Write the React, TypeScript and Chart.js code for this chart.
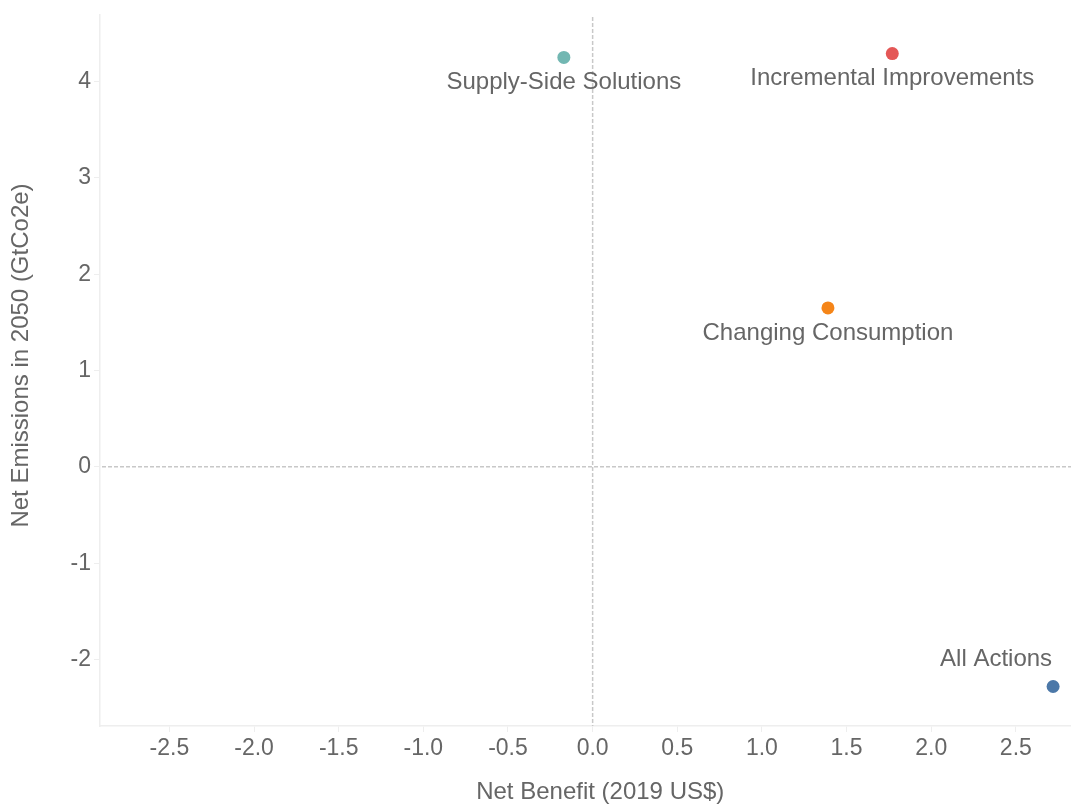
import React, { useEffect, useRef } from 'react';
import { Chart, registerables } from 'chart.js';

Chart.register(...registerables);

const categories = ['Supply-Side Solutions', 'Incremental Improvements', 'Changing Consumption', 'All Actions'];
const netBenefit = [-0.17, 1.77, 1.39, 2.72];
const netEmissions = [4.25, 4.29, 1.65, -2.28];
const pointColors = ['#72b7b2', '#e45756', '#f58518', '#4c78a8'];
const labelPlacement = ['below', 'below', 'below', 'above-left'];
const xTickValues = [-2.5, -2, -1.5, -1, -0.5, 0, 0.5, 1, 1.5, 2, 2.5];
const yTickValues = [-2, -1, 0, 1, 2, 3, 4];
const xRange = [-2.91, 3.0];
const yRange = [-2.69, 4.69];
const xTitle = 'Net Benefit (2019 US$)';
const yTitle = 'Net Emissions in 2050 (GtCo2e)';

const FONT = "'Liberation Sans', Arial, Helvetica, sans-serif";
const TEXT = '#666666';
const AXIS = '#eeeeee';

const refLines = {
  id: 'refLines',
  beforeDatasetsDraw(chart: any) {
    const { ctx, chartArea, scales } = chart;
    const x0 = scales.x.getPixelForValue(0);
    const y0 = scales.y.getPixelForValue(0);
    ctx.save();
    ctx.beginPath();
    ctx.rect(chartArea.left, chartArea.top, chartArea.right - chartArea.left, chartArea.bottom - chartArea.top);
    ctx.clip();
    ctx.strokeStyle = '#c8c8c8';
    ctx.lineWidth = 1.5;
    ctx.setLineDash([4, 2]);
    ctx.beginPath();
    ctx.moveTo(x0, chartArea.top + 2);
    ctx.lineTo(x0, chartArea.bottom);
    ctx.moveTo(chartArea.left + 2, y0);
    ctx.lineTo(chartArea.right, y0);
    ctx.stroke();
    ctx.restore();
  },
};

const pointLabels = {
  id: 'pointLabels',
  afterDatasetsDraw(chart: any) {
    const { ctx } = chart;
    const meta = chart.getDatasetMeta(0);
    ctx.save();
    ctx.font = `24px ${FONT}`;
    ctx.fillStyle = TEXT;
    ctx.textBaseline = 'middle';
    meta.data.forEach((pt: any, i: number) => {
      const place = labelPlacement[i];
      if (place === 'above-left') {
        ctx.textAlign = 'right';
        ctx.fillText(categories[i], pt.x - 1, pt.y - 27);
      } else {
        ctx.textAlign = 'center';
        ctx.fillText(categories[i], pt.x, pt.y + 25);
      }
    });
    ctx.restore();
  },
};

const yTitlePlugin = {
  id: 'yTitlePlugin',
  afterDraw(chart: any) {
    const { ctx, chartArea } = chart;
    ctx.save();
    ctx.font = `24px ${FONT}`;
    ctx.fillStyle = TEXT;
    ctx.textAlign = 'center';
    ctx.textBaseline = 'alphabetic';
    ctx.translate(28, (chartArea.top + chartArea.bottom) / 2 - 15);
    ctx.rotate(-Math.PI / 2);
    ctx.fillText(yTitle, 0, 0);
    ctx.restore();
  },
};

export default function App() {
  const canvasRef = useRef<HTMLCanvasElement | null>(null);

  useEffect(() => {
    if (!canvasRef.current) return;
    const chart = new Chart(canvasRef.current, {
      type: 'scatter',
      data: {
        datasets: [
          {
            label: 'Scenarios',
            data: netBenefit.map((v, i) => ({ x: v, y: netEmissions[i] })),
            backgroundColor: pointColors,
            borderWidth: 0,
            pointRadius: 6.5,
            pointHoverRadius: 6.5,
          },
        ],
      },
      options: {
        responsive: false,
        animation: false,
        events: [],
        layout: { padding: { left: 0, top: 15, right: 0, bottom: 0 } },
        plugins: {
          legend: { display: false },
          tooltip: { enabled: false },
          title: { display: false },
        },
        scales: {
          x: {
            type: 'linear',
            min: xRange[0],
            max: xRange[1],
            afterBuildTicks: (scale: any) => {
              scale.ticks = xTickValues.map((v) => ({ value: v }));
            },
            afterFit: (scale: any) => {
              scale.height = 79;
            },
            ticks: {
              color: TEXT,
              font: { size: 23, family: FONT },
              padding: 3,
              maxRotation: 0,
              autoSkip: false,
              callback: (v: any) => Number(v).toFixed(1),
            },
            grid: { drawOnChartArea: false, drawTicks: true, tickLength: 6, color: AXIS },
            border: { display: true, color: AXIS, width: 1.5 },
            title: {
              display: true,
              text: xTitle,
              color: TEXT,
              font: { size: 24, family: FONT },
              padding: { top: 0, bottom: -2 },
            },
          },
          y: {
            type: 'linear',
            min: yRange[0],
            max: yRange[1],
            afterBuildTicks: (scale: any) => {
              scale.ticks = yTickValues.map((v) => ({ value: v }));
            },
            afterFit: (scale: any) => {
              scale.width = 100;
              scale.paddingTop = 0;
              scale.paddingBottom = 0;
            },
            ticks: {
              color: TEXT,
              font: { size: 23, family: FONT },
              padding: 3,
              autoSkip: false,
              callback: (v: any) => String(v),
            },
            grid: { drawOnChartArea: false, drawTicks: true, tickLength: 6, color: AXIS },
            border: { display: true, color: AXIS, width: 1.5 },
            title: { display: false },
          },
        },
      },
      plugins: [refLines, pointLabels, yTitlePlugin],
    });
    return () => chart.destroy();
  }, []);

  return (
    <div style={{ position: 'absolute', left: 0, top: 0, width: 1071, height: 805, overflow: 'hidden', background: '#ffffff' }}>
      <canvas ref={canvasRef} width={1107} height={805} style={{ display: 'block', width: 1107, height: 805 }} />
    </div>
  );
}
